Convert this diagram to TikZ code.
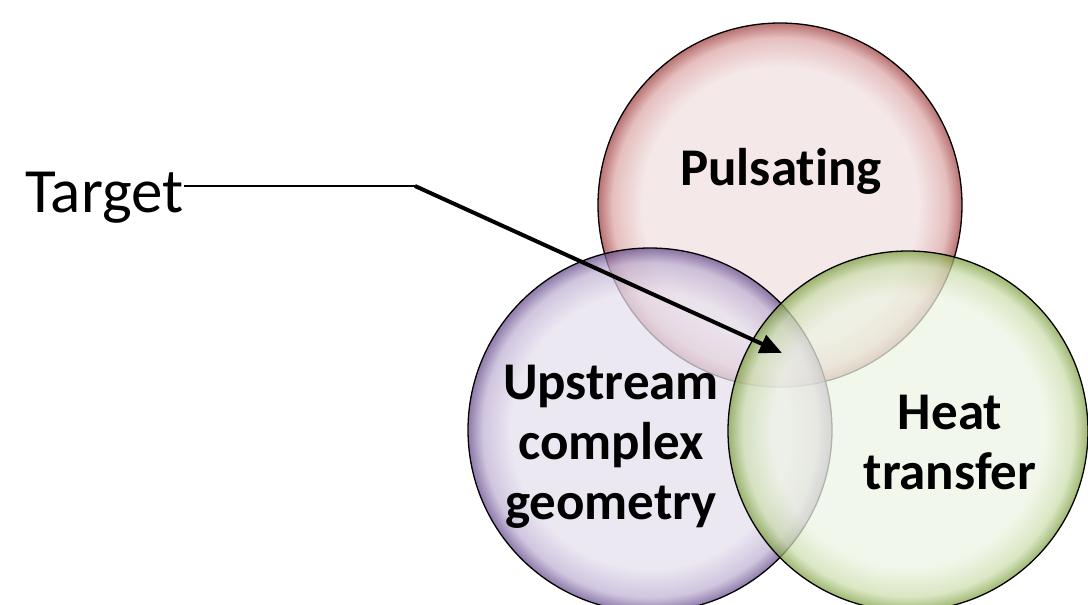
\documentclass[tikz,border=0pt]{standalone}
\usepackage{fontspec}
\setmainfont[Ligatures=NoCommon]{Carlito}
\usepackage{xcolor}
\usetikzlibrary{arrows.meta}
\usetikzlibrary{positioning}

\definecolor{pulspale}{HTML}{F1E0E0}
\definecolor{pulsmid}{HTML}{DDA8A8}
\definecolor{pulsrim}{HTML}{A04040}
\definecolor{upstpale}{HTML}{E6E0EE}
\definecolor{upstmid}{HTML}{BFB1D3}
\definecolor{upstrim}{HTML}{664C8C}
\definecolor{heatpale}{HTML}{EEF4E4}
\definecolor{heatmid}{HTML}{CCDEAE}
\definecolor{heatrim}{HTML}{7E9F42}

\pgfdeclareradialshading{pulsshade}{\pgfpoint{0bp}{0bp}}{%
  color(0bp)=(pulspale); color(19bp)=(pulspale); color(23bp)=(pulsmid);
  color(25bp)=(pulsrim); color(50bp)=(pulsrim)}
\pgfdeclareradialshading{upstshade}{\pgfpoint{0bp}{0bp}}{%
  color(0bp)=(upstpale); color(19bp)=(upstpale); color(23bp)=(upstmid);
  color(25bp)=(upstrim); color(50bp)=(upstrim)}
\pgfdeclareradialshading{heatshade}{\pgfpoint{0bp}{0bp}}{%
  color(0bp)=(heatpale); color(19bp)=(heatpale); color(23bp)=(heatmid);
  color(25bp)=(heatrim); color(50bp)=(heatrim)}

\tikzset{
    bubble/.style = {circle, draw=black, line width=1.3pt, inner sep=0pt, fill opacity=0.74, draw opacity=1},
    puls_node/.style = {bubble, shading=pulsshade, minimum size=364pt},
    upst_node/.style = {bubble, shading=upstshade, minimum size=364pt},
    heat_node/.style = {bubble, shading=heatshade, minimum size=360pt},
    label_text/.style = {align=center, inner sep=0pt, font=\fontsize{53}{60}\selectfont\bfseries},
    target_text/.style = {inner sep=0pt, font=\fontsize{63}{70}\selectfont},
    thin_line/.style = {line width=2pt, black},
    thick_line/.style = {line width=4pt, black}
}

\begin{document}
\begin{tikzpicture}
            [x=1pt, y=-1pt, >={Triangle[length=22pt, width=19pt]}]

            \clip (0,0) rectangle (1088,605);

            % circles
            \node [puls_node] (puls) at (780,205) {};
            \node [upst_node] (upst) at (650,430) {};
            \node [heat_node] (heat) at (908,431) {};

            % labels
            \node [label_text, anchor=base] (pulslbl) at (781,185) {Pulsating};
            \node [label_text] (upstlbl) at (611,447) {Upstream\\complex\\geometry};
            \node [label_text] (heatlbl) at (950,443) {Heat\\transfer};

            % pointer
            \node [target_text, anchor=base west] (target) at (25,212) {Target};
            \coordinate (bend) at (415,186);
            \coordinate (tip) at (782,353);
            \draw [thin_line] (target.east |- bend) -- (bend);
            \draw [thick_line, ->] (bend) -- (tip);
\end{tikzpicture}
\end{document}
